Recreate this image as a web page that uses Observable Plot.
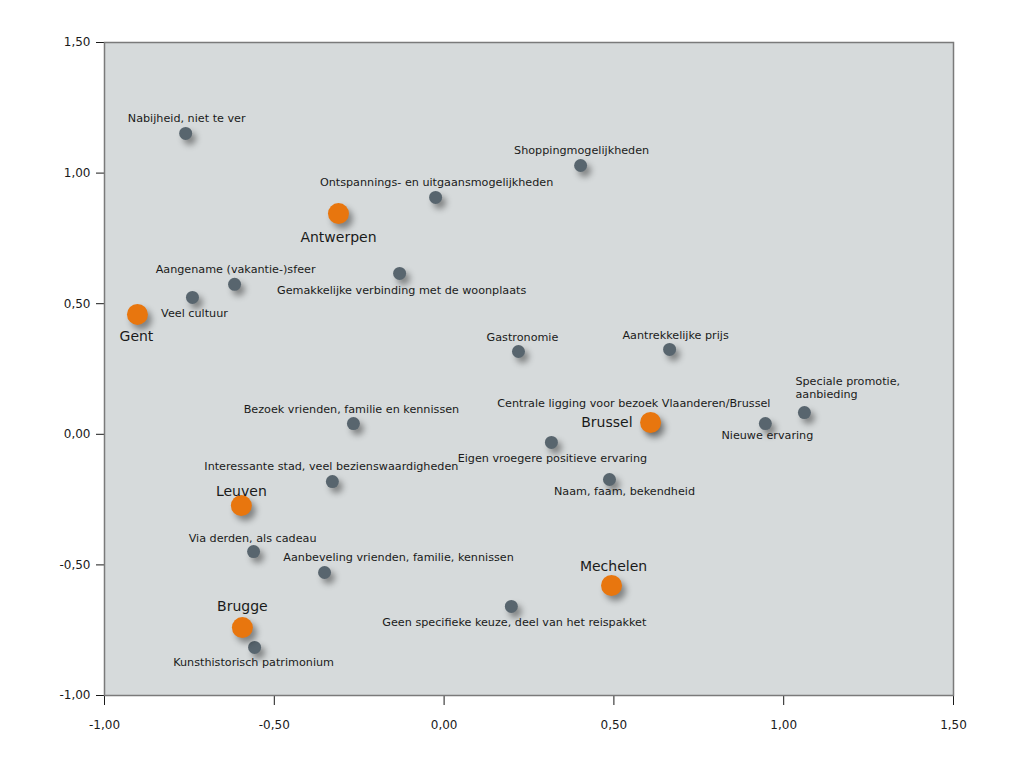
<!DOCTYPE html>
<html>
<head>
<meta charset="utf-8">
<script src="https://cdn.jsdelivr.net/npm/d3@7"></script>
<script src="https://cdn.jsdelivr.net/npm/@observablehq/plot@0.6"></script>
<style>
  html, body { margin: 0; padding: 0; background: #ffffff; }
  #chart { width: 1024px; height: 766px; }
</style>
</head>
<body>
<div id="chart"></div>
<script>
// Attributes (gray points)
const attrNames = [
  "Nabijheid, niet te ver",
  "Shoppingmogelijkheden",
  "Ontspannings- en uitgaansmogelijkheden",
  "Aangename (vakantie-)sfeer",
  "Veel cultuur",
  "Gemakkelijke verbinding met de woonplaats",
  "Gastronomie",
  "Aantrekkelijke prijs",
  "Speciale promotie,\naanbieding",
  "Nieuwe ervaring",
  "Centrale ligging voor bezoek Vlaanderen/Brussel",
  "Bezoek vrienden, familie en kennissen",
  "Eigen vroegere positieve ervaring",
  "Naam, faam, bekendheid",
  "Interessante stad, veel bezienswaardigheden",
  "Via derden, als cadeau",
  "Aanbeveling vrienden, familie, kennissen",
  "Geen specifieke keuze, deel van het reispakket",
  "Kunsthistorisch patrimonium"
];
const attrX = [-0.761, 0.402, -0.025, -0.617, -0.741, -0.131, 0.219, 0.664, 1.061, 0.946, 0.600, -0.267, 0.316, 0.487, -0.329, -0.561, -0.352, 0.198, -0.558];
const attrY = [1.152, 1.029, 0.907, 0.574, 0.524, 0.616, 0.317, 0.325, 0.083, 0.041, 0.050, 0.041, -0.031, -0.173, -0.181, -0.449, -0.529, -0.659, -0.816];

// Cities (orange points)
const cityNames = ["Antwerpen", "Gent", "Brussel", "Leuven", "Mechelen", "Brugge"];
const cityX = [-0.311, -0.903, 0.608, -0.597, 0.493, -0.594];
const cityY = [0.845, 0.459, 0.045, -0.273, -0.579, -0.740];

// Axis ticks
const tickValues = [-1.0, -0.5, 0.0, 0.5, 1.0, 1.5];

// Label placement (layout only): [dx, dy, textAnchor]
const attrLabelPos = [
  [1, -15, "middle"], [1, -15, "middle"], [1, -15, "middle"], [1, -15, "middle"],
  [2, 16, "middle"], [2, 17, "middle"], [4, -14, "middle"], [6, -14, "middle"],
  [-9, -25, "start"], [2, 11, "middle"], [-14, -18, "middle"], [-2, -15, "middle"],
  [1, 16, "middle"], [15, 12, "middle"], [-1, -16, "middle"], [-1, -14, "middle"],
  [74, -15, "middle"], [3, 16, "middle"], [-1, 15, "middle"]
];
const cityLabelPos = [
  [0, 23, "middle"], [-1, 22, "middle"], [-18, 0, "end"],
  [0, -15, "middle"], [2, -19, "middle"], [0, -22, "middle"]
];

const attrs = attrNames.map((n, i) => ({name: n, x: attrX[i], y: attrY[i], dx: attrLabelPos[i][0], dy: attrLabelPos[i][1], anchor: attrLabelPos[i][2]}));
const cities = cityNames.map((n, i) => ({name: n, x: cityX[i], y: cityY[i], dx: cityLabelPos[i][0], dy: cityLabelPos[i][1], anchor: cityLabelPos[i][2]}));

const fmt = d => d.toFixed(2).replace(".", ",");

function labelMarks(data, fontSize) {
  return data.map(d => Plot.text([d], {
    x: "x", y: "y", text: "name",
    dx: d.dx, dy: d.dy, textAnchor: d.anchor,
    lineAnchor: "middle", lineHeight: 1.1,
    fontSize, fill: "#1a1a1a"
  }));
}

const chart = Plot.plot({
  width: 1024,
  height: 766,
  marginLeft: 104,
  marginRight: 71,
  marginTop: 42,
  marginBottom: 71,
  style: {fontFamily: "DejaVu Sans, Verdana, sans-serif", fontSize: "12px", background: "#ffffff", color: "#1a1a1a"},
  x: {domain: [-1, 1.5], ticks: tickValues, tickFormat: fmt, tickSize: 10, tickPadding: 15, label: null},
  y: {domain: [-1, 1.5], ticks: tickValues, tickFormat: fmt, tickSize: 8, tickPadding: 6, label: null},
  marks: [
    Plot.frame({fill: "#d6dadb", stroke: "#7a7a7a", strokeWidth: 1.5}),
    Plot.dot(attrs, {x: "x", y: "y", r: 6.5, fill: "#58656e", stroke: "none"}),
    Plot.dot(cities, {x: "x", y: "y", r: 10.5, fill: "#e8760e", stroke: "none"}),
    ...labelMarks(attrs, 11.2),
    ...labelMarks(cities, 14)
  ]
});

// axis tick labels
chart.querySelectorAll("text").forEach(t => {
  if (/^-?\d,\d\d$/.test(t.textContent.replace("\u2212", "-"))) {
    t.style.fontSize = "12px";
  }
});

chart.querySelectorAll('g[aria-label="dot"]').forEach(g => {
  g.style.filter = "drop-shadow(4px 5px 3px rgba(0,0,0,0.4))";
});

document.getElementById("chart").appendChild(chart);
</script>
</body>
</html>
